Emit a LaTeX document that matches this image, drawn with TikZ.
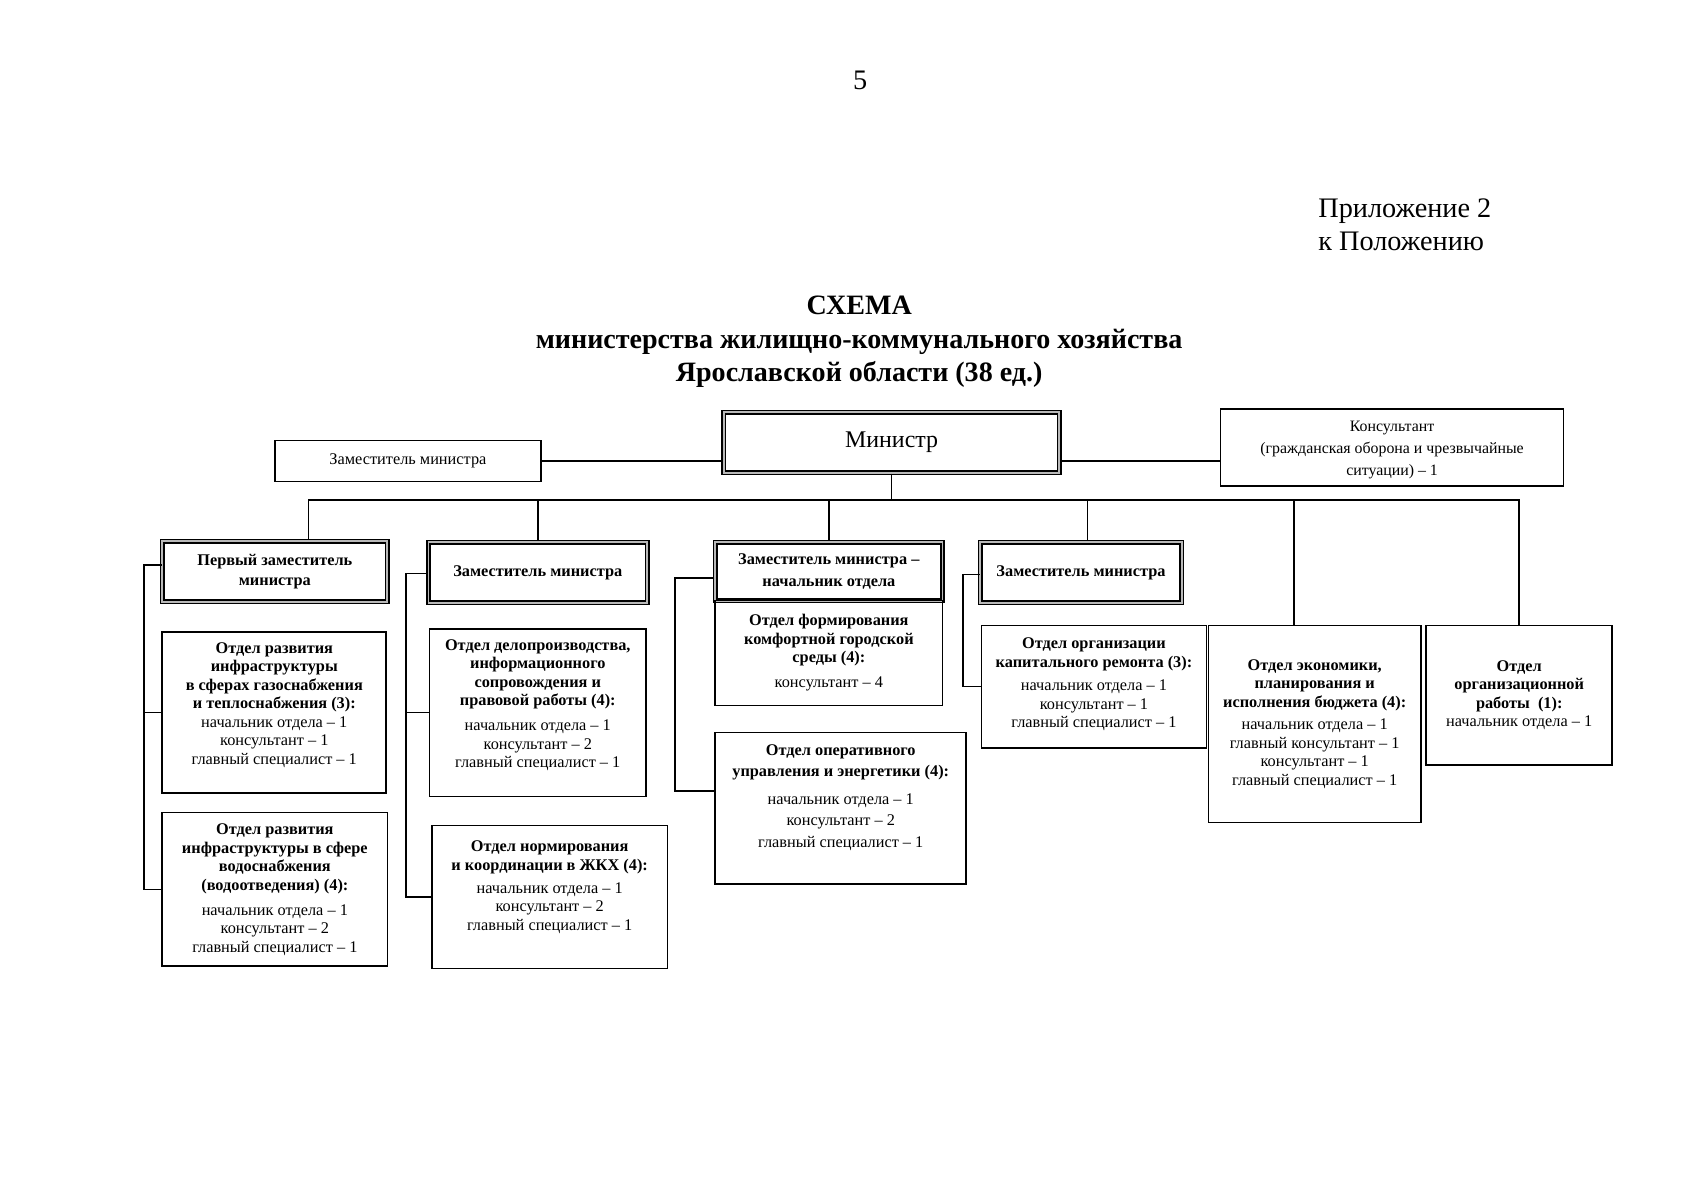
\documentclass[tikz,border=0pt]{standalone}
\usepackage{fontspec}
\setmainfont{Liberation Serif}
\usetikzlibrary{fit,calc}
\newcommand\bl[1]{\textbf{#1}}
\begin{document}
\begin{tikzpicture}[x=0.49765pt,y=-0.49765pt,
  frame/.style={draw, line width=0.75pt, inner sep=0pt},
  dframe/.style={draw, double=gray!55, double distance=0.9pt, line width=0.7pt, inner sep=0pt},
  txt/.style={align=center, inner sep=0pt, font=\fontsize{7.5}{8.5}\selectfont},
  conn/.style={line width=0.7pt}]
\useasboundingbox (0pt,0pt) rectangle (780pt,-552pt);
\fill[white] (0pt,0pt) rectangle (780pt,-552pt);

% header
\node[font=\fontsize{13}{15}\selectfont, inner sep=0pt] (pg) at (795,74) {5};
\node[font=\fontsize{13}{15}\selectfont, align=left, anchor=west, inner sep=0pt] (app) at (1218,208) {Приложение 2\\к Положению};
\node[font=\fontsize{12.9}{15.3}\selectfont\bfseries, align=center, inner sep=0pt] (title) at (794,316)
  {СХЕМА\\министерства жилищно-коммунального хозяйства\\Ярославской области (38 ед.)};

% top row
\node[frame, fit={(254,407)(500,445)}] (zam0) {};
\node[txt] (zam0t) at (zam0.center) {Заместитель министра};
\node[dframe, fit={(669,381)(979,437)}] (min) {};
\node[txt, font=\fontsize{11}{13}\selectfont] (mint) at (min.center) {Министр};
\node[frame, fit={(1128,378)(1445,449)}] (kons) {};
\node[txt, font=\fontsize{7.3}{10}\selectfont] (konst) at ($(kons.center)+(0,2.5)$)
  {Консультант\\(гражданская оборона и чрезвычайные\\ситуации) – 1};

% deputies
\node[dframe, fit={(150,500)(358,556)}] (p1) {};
\node[txt, font=\fontsize{7.5}{9}\selectfont] (p1t) at (p1.center) {\bl{Первый заместитель}\\\bl{министра}};
\node[dframe, fit={(396,501)(598,557)}] (z2) {};
\node[txt, font=\fontsize{7.5}{9}\selectfont] (z2t) at (z2.center) {\bl{Заместитель министра}};
\node[dframe, fit={(661,501)(871,555)}] (z3) {};
\node[txt, font=\fontsize{7.5}{10}\selectfont] (z3t) at (z3.center) {\bl{Заместитель министра –}\\\bl{начальник отдела}};
\node[dframe, fit={(906,501)(1092,557)}] (z4) {};
\node[txt, font=\fontsize{7.5}{9}\selectfont] (z4t) at (z4.center) {\bl{Заместитель министра}};

% departments
\node[frame, fit={(150,584)(357,733)}] (d1) {};
\node[txt] (d1t) at ($(d1.center)+(0,-7)$) {\bl{Отдел развития}\\\bl{инфраструктуры}\\\bl{в сферах газоснабжения}\\\bl{и теплоснабжения (3):}\\начальник отдела – 1\\консультант – 1\\главный специалист – 1};

\node[frame, fit={(150,751)(358,893)}] (d2) {};
\node[txt] (d2t) at (d2.center) {\bl{Отдел развития}\\\bl{инфраструктуры в сфере}\\\bl{водоснабжения}\\\bl{(водоотведения) (4):}\\[3pt]начальник отдела – 1\\консультант – 2\\главный специалист – 1};

\node[frame, fit={(397,581)(597,736)}] (d3) {};
\node[txt] (d3t) at ($(d3.center)+(0,-7)$) {\bl{Отдел делопроизводства,}\\\bl{информационного}\\\bl{сопровождения и}\\\bl{правовой работы (4):}\\[3pt]начальник отдела – 1\\консультант – 2\\главный специалист – 1};

\node[frame, fit={(399,763)(617,895)}] (d4) {};
\node[txt] (d4t) at ($(d4.center)+(0,-9)$) {\bl{Отдел нормирования}\\\bl{и координации в ЖКХ (4):}\\[2pt]начальник отдела – 1\\консультант – 2\\главный специалист – 1};

\node[frame, fit={(661,555)(871,652)}] (d5) {};
\node[txt] (d5t) at (d5.center) {\bl{Отдел формирования}\\\bl{комфортной городской}\\\bl{среды (4):}\\[3pt]консультант – 4};

\node[frame, fit={(661,677)(893,817)}] (d6) {};
\node[txt, font=\fontsize{7.5}{10}\selectfont] (d6t) at ($(d6.center)+(0,-10)$) {\bl{Отдел оперативного}\\\bl{управления и энергетики (4):}\\[2.5pt]начальник отдела – 1\\консультант – 2\\главный специалист – 1};

\node[frame, fit={(907,578)(1115,691)}] (d7) {};
\node[txt] (d7t) at ($(d7.center)+(0,-2)$) {\bl{Отдел организации}\\\bl{капитального ремонта (3):}\\[2.5pt]начальник отдела – 1\\консультант – 1\\главный специалист – 1};

\node[frame, fit={(1117,578)(1313,760)}] (d8) {};
\node[txt] (d8t) at (d8.center) {\bl{Отдел экономики,}\\\bl{планирования и}\\\bl{исполнения бюджета (4):}\\[2pt]начальник отдела – 1\\главный консультант – 1\\консультант – 1\\главный специалист – 1};

\node[frame, fit={(1318,578)(1490,707)}] (d9) {};
\node[txt] (d9t) at (d9.center) {\bl{Отдел}\\\bl{организационной}\\\bl{работы~~(1):}\\начальник отдела – 1};

% connectors
\draw[conn] (zam0.east) -- (zam0.east -| min.west);
\draw[conn] (min.east |- zam0.east) -- (kons.west |- zam0.east);

\coordinate (busL) at (285,462);
\coordinate (bus4) at (1005,462);
\coordinate (bus8) at (1196,462);
\draw[conn] (busL) -- (busL -| d9.north) -- (d9.north);
\draw[conn] (min.south) -- (min.south |- busL);
\draw[conn] (busL) -- (busL |- p1.north);
\draw[conn] (z2.north |- busL) -- (z2.north);
\draw[conn] (z3.north |- busL) -- (z3.north);
\draw[conn] (bus4) -- (bus4 |- z4.north);
\draw[conn] (bus8) -- (bus8 |- d8.north);

\coordinate (k1) at (133,522);
\draw[conn] (p1.west |- k1) -- (k1) |- (d2.west);
\draw[conn] (k1 |- d1.west) -- (d1.west);
\coordinate (k2) at (375,530);
\draw[conn] (z2.west |- k2) -- (k2) |- (d4.west);
\draw[conn] (k2 |- d3.west) -- (d3.west);
\coordinate (k3) at (624,534);
\coordinate (k3b) at (624,731);
\draw[conn] (z3.west |- k3) -- (k3) -- (k3b) -- (k3b -| d6.west);
\coordinate (k4) at (890,531);
\draw[conn] (z4.west |- k4) -- (k4) |- (d7.west);
\end{tikzpicture}
\end{document}
